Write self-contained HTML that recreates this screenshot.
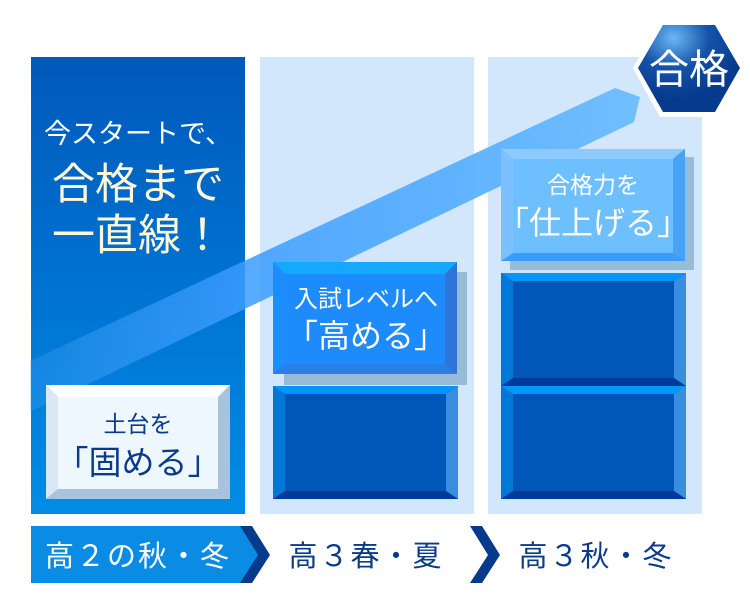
<!DOCTYPE html>
<html><head><meta charset="utf-8"><style>
html,body{margin:0;padding:0;background:#fff;}
svg{display:block;}
text{font-family:"Liberation Sans","Noto Sans CJK JP",sans-serif;}
</style></head><body>
<svg width="750" height="600" viewBox="0 0 750 600" xmlns="http://www.w3.org/2000/svg">
<defs>
<linearGradient id="c1" x1="0" y1="0" x2="0" y2="1">
<stop offset="0" stop-color="#0059bb"/><stop offset="1" stop-color="#008ce6"/></linearGradient>
<linearGradient id="band" x1="0" y1="0" x2="1" y2="0">
<stop offset="0" stop-color="#4aa6ff" stop-opacity="0.25"/><stop offset="0.35" stop-color="#3a9cff" stop-opacity="0.85"/><stop offset="1" stop-color="#70bfff"/></linearGradient>
<radialGradient id="hex" cx="0.35" cy="0.15" r="0.7">
<stop offset="0" stop-color="#6ab8f5"/><stop offset="0.5" stop-color="#1552a8"/><stop offset="1" stop-color="#063a8c"/></radialGradient>
<g id="d">
<rect x="0" y="0" width="185" height="113" fill="#0057b8"/>
<polygon points="0,0 185,0 173,8 12,8" fill="#0095ff"/>
<polygon points="0,0 12,8 12,105 0,113" fill="#0078d8"/>
<polygon points="185,0 173,8 173,105 185,113" fill="#3a8ee0"/>
<polygon points="0,113 12,105 173,105 185,113" fill="#003a99"/>
</g>
</defs>
<rect x="31" y="57" width="214" height="457" fill="url(#c1)"/>
<rect x="260" y="57" width="214" height="457" fill="#d2e6fc"/>
<rect x="488" y="57" width="214" height="457" fill="#d2e6fc"/>
<text x="138" y="143" font-size="27" fill="#fff" text-anchor="middle">今スタートで、</text>
<text x="138" y="199" font-size="43" fill="#fff8d8" text-anchor="middle">合格まで</text>
<text x="138" y="250" font-size="43" fill="#fff8d8" text-anchor="middle">一直線！</text>
<polygon points="30,361 615,88 640,97 634,122 30,412" fill="url(#band)"/>
<polygon points="633,68 660,20 718,20 745,68 718,117 660,117" fill="#fff"/>
<polygon points="638,68 663,25 715,25 740,68 715,112 663,112" fill="url(#hex)"/>
<text x="689" y="83" font-size="40" fill="#fff" text-anchor="middle">合格</text>
<rect x="46" y="385" width="184" height="114" fill="#a9c6de"/>
<polygon points="46,385 230,385 218,397 58,397" fill="#ffffff"/>
<polygon points="46,385 58,397 58,489 46,499" fill="#d9e8f4"/>
<polygon points="230,385 218,397 218,489 230,499" fill="#a8c4dc"/>
<polygon points="46,499 58,489 218,489 230,499" fill="#a8c4dc"/>
<rect x="58" y="397" width="160" height="92" fill="#eef6fe"/>
<text x="138" y="432" font-size="23" fill="#0a3a8c" text-anchor="middle">土台を</text>
<text x="138" y="474" font-size="33" fill="#0a3a8c" text-anchor="middle">「固める」</text>
<rect x="284" y="272" width="183" height="113" fill="#98bcd8"/>
<rect x="273" y="262" width="184" height="112" fill="#2a7ee8"/>
<polygon points="273,262 457,262 445,274 285,274" fill="#16a8ff"/>
<polygon points="273,262 285,274 285,364 273,374" fill="#1d8cfc"/>
<polygon points="457,262 445,274 445,364 457,374" fill="#2f74d8"/>
<rect x="285" y="274" width="160" height="90" fill="#1e8bfc"/>
<text x="366" y="307" font-size="24" fill="#fff" text-anchor="middle">入試レベルへ</text>
<text x="366" y="347" font-size="32" fill="#fff" text-anchor="middle">「高める」</text>
<rect x="510" y="157" width="184" height="113" fill="#98bcd8"/>
<rect x="501" y="149" width="184" height="112" fill="#3a9cf8"/>
<polygon points="501,149 685,149 673,159 513,159" fill="#8ccaff"/>
<polygon points="501,149 513,159 513,253 501,261" fill="#7dc0ff"/>
<polygon points="685,149 673,159 673,253 685,261" fill="#4aa2f4"/>
<rect x="513" y="159" width="160" height="94" fill="#6ebffd"/>
<text x="593" y="193" font-size="23" fill="#fff" text-anchor="middle">合格力を</text>
<text x="593" y="234" font-size="32" fill="#fff" text-anchor="middle">「仕上げる」</text>
<use href="#d" x="273" y="386"/>
<use href="#d" x="501" y="273"/>
<use href="#d" x="501" y="386"/>
<polygon points="31,526 242,526 262,555 242,583 31,583" fill="#0a8ce4"/>
<polygon points="240,526 252,526 270,555 252,583 240,583 258,555" fill="#063a8c"/>
<polygon points="470,526 482,526 500,555 482,583 470,583 488,555" fill="#063a8c"/>
<text x="138" y="566" font-size="29" fill="#fff" text-anchor="middle" letter-spacing="2">高２の秋・冬</text>
<text x="366" y="566" font-size="29" fill="#0a3a8c" text-anchor="middle" letter-spacing="2">高３春・夏</text>
<text x="596" y="566" font-size="29" fill="#0a3a8c" text-anchor="middle" letter-spacing="2">高３秋・冬</text>
</svg>
</body></html>
